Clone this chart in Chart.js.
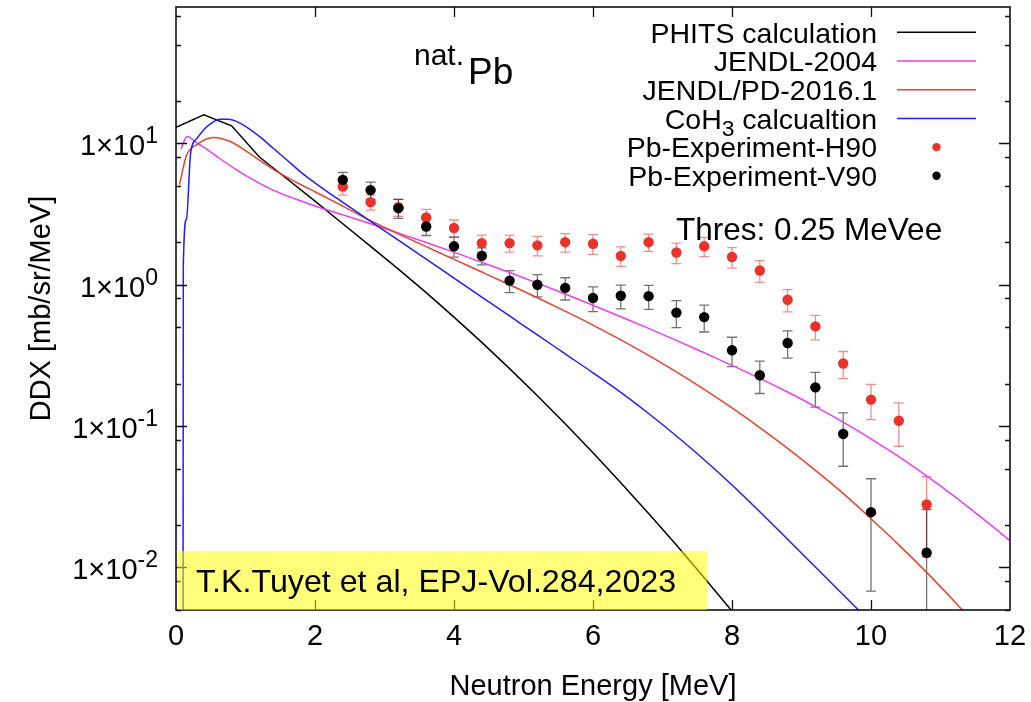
<!DOCTYPE html>
<html><head><meta charset="utf-8">
<script src="https://cdn.jsdelivr.net/npm/chart.js@4.4.1/dist/chart.umd.min.js"></script>
<style>html,body{margin:0;padding:0;background:#fff;}canvas{display:block;}</style>
</head><body>
<canvas id="c" width="1031" height="702"></canvas>
<script>
// ---------- data ----------
const seriesNames = ['PHITS calculation', 'JENDL-2004', 'JENDL/PD-2016.1', 'CoH_3 calcualtion', 'Pb-Experiment-H90', 'Pb-Experiment-V90'];

const phitsE = [0, 0.4, 0.8, 1.2, 1.6, 2.0, 2.4, 2.8, 3.2, 3.6, 4.0, 4.4, 4.8, 5.2, 5.6, 6.0, 6.4, 6.8, 7.2, 7.6, 8.0, 8.4];
const phitsV = [13.0, 15.9, 13.3, 8.0, 5.6, 3.90, 2.70, 1.87, 1.29, 0.879, 0.590, 0.391, 0.255, 0.164, 0.104, 0.0647, 0.0398, 0.0241, 0.0144, 0.00847, 0.00491, 0.00279];

const jendl04E = [0.07, 0.16, 0.3, 0.44, 0.6, 0.87, 1.1, 1.35, 1.6, 1.8, 2.0, 2.4, 2.8, 3.2, 3.6, 4.0, 4.4, 4.8, 5.2, 5.6, 6.0, 6.4, 6.8, 7.2, 7.6, 8.0, 8.4, 8.8, 9.2, 9.6, 10.0, 10.4, 10.8, 11.2, 11.6, 12.0];
const jendl04V = [9.1, 11.2, 10.1, 9.1, 8.0, 6.5, 5.56, 4.79, 4.25, 3.91, 3.61, 3.12, 2.70, 2.32, 1.99, 1.70, 1.44, 1.22, 1.026, 0.859, 0.716, 0.594, 0.491, 0.404, 0.330, 0.269, 0.2178, 0.1742, 0.1374, 0.1067, 0.0813, 0.0607, 0.0444, 0.0318, 0.0223, 0.01545];

const jendlPdE = [0.05, 0.15, 0.3, 0.54, 0.78, 1.0, 1.2, 1.4, 1.6, 1.8, 2.0, 2.4, 2.8, 3.2, 3.6, 4.0, 4.4, 4.8, 5.2, 5.6, 6.0, 6.4, 6.8, 7.2, 7.6, 8.0, 8.4, 8.8, 9.2, 9.6, 10.0, 10.4, 10.8, 11.2, 11.6];
const jendlPdV = [5.1, 8.2, 9.8, 11.0, 10.3, 8.9, 7.6, 6.55, 5.75, 5.1, 4.55, 3.6, 2.84, 2.29, 1.86, 1.51, 1.23, 1.0, 0.809, 0.650, 0.518, 0.407, 0.316, 0.2415, 0.1816, 0.1343, 0.0975, 0.0695, 0.0486, 0.0334, 0.02213, 0.01445, 0.00923, 0.00575, 0.00351];

const cohE = [0.10, 0.105, 0.15, 0.21, 0.3, 0.4, 0.5, 0.63, 0.75, 0.87, 1.0, 1.2, 1.4, 1.6, 1.8, 2.0, 2.2, 2.4, 2.8, 3.2, 3.6, 4.0, 4.4, 4.8, 5.2, 5.6, 6.0, 6.4, 6.8, 7.2, 7.6, 8.0, 8.4, 8.8, 9.2, 9.6, 10.0];
const cohV = [0.0001, 1.35, 2.9, 8.5, 10.8, 12.5, 13.8, 14.8, 14.8, 14.3, 13.2, 11.2, 9.23, 7.59, 6.24, 5.25, 4.47, 3.83, 2.81, 2.065, 1.517, 1.114, 0.818, 0.601, 0.4416, 0.3243, 0.2382, 0.1730, 0.1227, 0.0851, 0.0578, 0.0383, 0.02477, 0.01581, 0.01007, 0.00641, 0.00408];

const expE = [2.4, 2.8, 3.2, 3.6, 4.0, 4.4, 4.8, 5.2, 5.6, 6.0, 6.4, 6.8, 7.2, 7.6, 8.0, 8.4, 8.8, 9.2, 9.6, 10.0, 10.4, 10.8];
const h90V   = [4.95, 3.84, 3.53, 2.99, 2.52, 1.97, 1.97, 1.90, 2.00, 1.95, 1.60, 2.00, 1.69, 1.87, 1.57, 1.26, 0.783, 0.507, 0.277, 0.154, 0.109, 0.0279];
const h90Err = [0.64, 0.47, 0.49, 0.42, 0.35, 0.27, 0.27, 0.30, 0.30, 0.31, 0.25, 0.28, 0.28, 0.29, 0.26, 0.22, 0.14, 0.10, 0.060, 0.043, 0.037, 0.016];
const v90V   = [5.52, 4.67, 3.48, 2.58, 1.87, 1.60, 1.07, 1.00, 0.95, 0.805, 0.835, 0.83, 0.635, 0.59, 0.344, 0.229, 0.387, 0.188, 0.088, 0.0246, null, 0.0127];
const v90Err = [0.72, 0.65, 0.53, 0.35, 0.30, 0.22, 0.19, 0.18, 0.17, 0.16, 0.16, 0.16, 0.137, 0.127, 0.081, 0.059, 0.084, 0.052, 0.036, 0.0178, null, 0.013];

const xTicks = [0, 2, 4, 6, 8, 10, 12];
const xTickLabels = ['0', '2', '4', '6', '8', '10', '12'];
const yMajorTicks = [0.01, 0.1, 1, 10];
const yTickExponents = ['-2', '-1', '0', '1'];
const yMinorTicks = [0.005, 0.008, 0.02, 0.05, 0.08, 0.2, 0.5, 0.8, 2, 5, 8, 20, 50, 80];

const xTitle = 'Neutron Energy [MeV]';
const yTitle = 'DDX [mb/sr/MeV]';
const thresText = 'Thres: 0.25 MeVee';
const targetSup = 'nat.';
const targetMain = 'Pb';
const citation = 'T.K.Tuyet et al, EPJ-Vol.284,2023';

// ---------- helpers ----------
const FAM = '"Liberation Sans", Arial, Helvetica, sans-serif';
const fnt = s => s + 'px ' + FAM;
const zip = (xs, ys) => xs.map((x, i) => ({x: x, y: ys[i]}));

function parseRich(str, size) {
  const parts = [];
  let buf = '';
  for (let i = 0; i < str.length; i++) {
    if (str[i] === '_' && i + 1 < str.length) {
      if (buf) parts.push({t: buf, size: size, dy: 0});
      buf = '';
      parts.push({t: str[i + 1], size: size * 0.8, dy: size * 0.25});
      i++;
    } else buf += str[i];
  }
  if (buf) parts.push({t: buf, size: size, dy: 0});
  return parts;
}
function richWidth(ctx, parts) {
  let w = 0;
  for (const p of parts) { ctx.font = fnt(p.size); w += ctx.measureText(p.t).width; }
  return w;
}
function drawRich(ctx, parts, x, y, align) {
  const w = richWidth(ctx, parts);
  let cx = align === 'right' ? x - w : (align === 'center' ? x - w / 2 : x);
  ctx.textAlign = 'left';
  ctx.textBaseline = 'alphabetic';
  for (const p of parts) {
    ctx.font = fnt(p.size);
    ctx.fillText(p.t, cx, y + (p.dy || 0));
    cx += ctx.measureText(p.t).width + (p.gap || 0);
  }
}

// ---------- plugin ----------
const deco = {
  id: 'deco',
  beforeDatasetsDraw(chart) {
    const {ctx, chartArea: a, scales: {x, y}} = chart;
    ctx.save();
    ctx.beginPath();
    ctx.rect(a.left, a.top, a.right - a.left, a.bottom - a.top);
    ctx.clip();
    chart.data.datasets.forEach(ds => {
      if (!ds.yErr) return;
      ctx.strokeStyle = ds.errColor;
      ctx.lineWidth = 1.3;
      ds.data.forEach((p, i) => {
        const e = ds.yErr[i];
        if (p.y == null || e == null) return;
        const px = x.getPixelForValue(p.x);
        const hi = y.getPixelForValue(p.y + e);
        const lowOk = p.y - e > 0;
        const lo = lowOk ? y.getPixelForValue(p.y - e) : a.bottom + 5;
        ctx.beginPath();
        ctx.moveTo(px, hi); ctx.lineTo(px, lo);
        ctx.moveTo(px - 5, hi); ctx.lineTo(px + 5, hi);
        if (lowOk) { ctx.moveTo(px - 5, lo); ctx.lineTo(px + 5, lo); }
        ctx.stroke();
      });
    });
    ctx.restore();
  },
  afterDatasetsDraw(chart) {
    const {ctx, chartArea: a, scales: {x, y}} = chart;
    ctx.save();
    // frame
    ctx.strokeStyle = '#111';
    ctx.lineWidth = 1.6;
    ctx.strokeRect(a.left, a.top, a.right - a.left, a.bottom - a.top);
    // ticks
    ctx.lineWidth = 1.3;
    ctx.beginPath();
    xTicks.forEach(v => {
      const px = Math.round(x.getPixelForValue(v)) + 0.5;
      if (v <= x.min || v >= x.max) return;
      ctx.moveTo(px, a.bottom); ctx.lineTo(px, a.bottom - 10);
      ctx.moveTo(px, a.top); ctx.lineTo(px, a.top + 10);
    });
    yMajorTicks.forEach(v => {
      const py = Math.round(y.getPixelForValue(v)) + 0.5;
      ctx.moveTo(a.left, py); ctx.lineTo(a.left + 11, py);
      ctx.moveTo(a.right, py); ctx.lineTo(a.right - 11, py);
    });
    yMinorTicks.forEach(v => {
      const py = Math.round(y.getPixelForValue(v)) + 0.5;
      ctx.moveTo(a.left, py); ctx.lineTo(a.left + 5, py);
      ctx.moveTo(a.right, py); ctx.lineTo(a.right - 5, py);
    });
    ctx.stroke();

    ctx.fillStyle = '#000';
    // x tick labels
    ctx.font = fnt(29);
    ctx.textAlign = 'center';
    ctx.textBaseline = 'alphabetic';
    xTicks.forEach((v, i) => ctx.fillText(xTickLabels[i], x.getPixelForValue(v), a.bottom + 35));
    // y tick labels
    yMajorTicks.forEach((v, i) => {
      const py = y.getPixelForValue(v);
      drawRich(ctx, [{t: '1\u00d710', size: 29, dy: 0}, {t: yTickExponents[i], size: 23, dy: -12}], 158, py + 12, 'right');
    });
    // axis titles
    ctx.font = fnt(29);
    ctx.textAlign = 'center';
    ctx.fillText(xTitle, (a.left + a.right) / 2, 695);
    ctx.save();
    ctx.translate(50, (a.top + a.bottom) / 2);
    ctx.rotate(-Math.PI / 2);
    ctx.fillText(yTitle, 0, 0);
    ctx.restore();

    // annotations
    drawRich(ctx, [{t: targetSup, size: 30, dy: -19, gap: 4}, {t: targetMain, size: 37, dy: 0}], 414, 84, 'left');
    ctx.font = fnt(31.5);
    ctx.textAlign = 'left';
    ctx.fillText(thresText, 676, 240);

    // legend
    const rowY0 = 32.3, rowDy = 28.7;
    chart.data.datasets.forEach((ds, i) => {
      const cy = rowY0 + i * rowDy;
      ctx.fillStyle = '#000';
      drawRich(ctx, parseRich(ds.label, 28.5), 877, cy + 10.2, 'right');
      if (ds.showLine === false) {
        ctx.beginPath();
        ctx.fillStyle = ds.backgroundColor;
        ctx.arc(936.5, cy, 4.2, 0, Math.PI * 2);
        ctx.fill();
      } else {
        ctx.beginPath();
        ctx.strokeStyle = ds.borderColor;
        ctx.lineWidth = 1.5;
        ctx.moveTo(897, cy); ctx.lineTo(976, cy);
        ctx.stroke();
      }
    });

    // citation box
    ctx.fillStyle = 'rgba(255,255,0,0.52)';
    ctx.fillRect(a.left + 1.5, 551, 707 - a.left - 1.5, a.bottom - 551);
    ctx.fillStyle = '#000';
    ctx.font = fnt(32.2);
    ctx.textAlign = 'left';
    ctx.fillText(citation, 196, 592);
    ctx.restore();
  }
};

// ---------- chart ----------
const lineDs = (label, xs, ys, color, order, smooth) => ({
  type: 'line', label: label, data: zip(xs, ys), borderColor: color, backgroundColor: color,
  borderWidth: 1.5, pointRadius: 0, fill: false, order: order,
  tension: smooth ? 0.4 : 0, cubicInterpolationMode: smooth ? 'monotone' : 'default'
});
const ptDs = (label, ys, errs, color, errColor, order) => ({
  type: 'scatter', label: label, data: zip(expE, ys), showLine: false,
  backgroundColor: color, borderColor: color, borderWidth: 0, pointRadius: 5.2,
  order: order, yErr: errs, errColor: errColor
});

new Chart(document.getElementById('c'), {
  data: {
    datasets: [
      lineDs(seriesNames[0], phitsE, phitsV, '#000000', 6, false),
      lineDs(seriesNames[1], jendl04E, jendl04V, '#f03cf0', 5, true),
      lineDs(seriesNames[2], jendlPdE, jendlPdV, '#e8432c', 4, true),
      lineDs(seriesNames[3], cohE, cohV, '#1e1eff', 3, true),
      ptDs(seriesNames[4], h90V, h90Err, '#e8322a', 'rgba(232,50,42,0.55)', 2),
      ptDs(seriesNames[5], v90V, v90Err, '#000000', 'rgba(0,0,0,0.55)', 1)
    ]
  },
  options: {
    responsive: false,
    animation: false,
    devicePixelRatio: 1,
    layout: {padding: {top: 7, right: 21, left: 0, bottom: 0}},
    plugins: {legend: {display: false}, tooltip: {enabled: false}},
    scales: {
      x: {type: 'linear', min: 0, max: 12, ticks: {display: false}, grid: {display: false}, border: {display: false},
          afterFit(s) { s.height = 92; }},
      y: {type: 'logarithmic', min: 0.005, max: 92.2, ticks: {display: false}, grid: {display: false}, border: {display: false},
          afterFit(s) { s.width = 176; }}
    }
  },
  plugins: [deco]
});
</script>
</body></html>
